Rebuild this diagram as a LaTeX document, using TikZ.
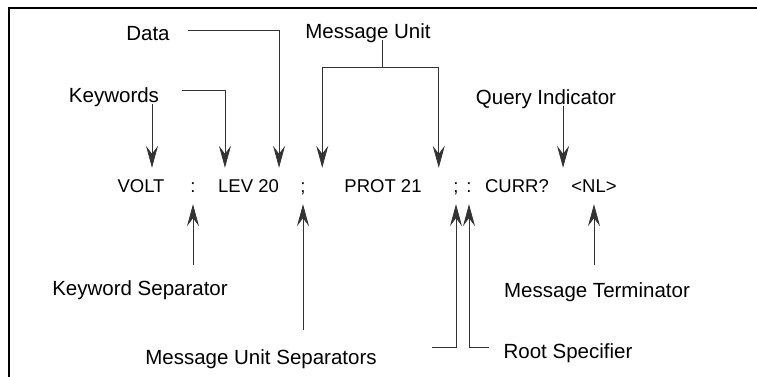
\documentclass[tikz,border=0pt]{standalone}
\usepackage{fontspec}
\setmainfont{Liberation Sans}
\usetikzlibrary{arrows.meta}
\begin{document}
\begin{tikzpicture}
[x=1pt,y=-1pt,
 note/.style={font=\fontsize{20.5}{24}\selectfont, inner sep=2pt, text height=14.5pt, text depth=0pt},
 code/.style={font=\fontsize{18.5}{22}\selectfont, inner xsep=0pt, inner ysep=0pt, text height=13pt, text depth=0pt, minimum height=36pt},
 link/.style={draw=black!80, line width=0.8pt},
 pointer/.style={link, -{Stealth[length=22pt,width=12pt,inset=8pt]}}]
\useasboundingbox (0,0) rectangle (757,377);
% frame
\draw[line width=1.5pt] (9,377) -- (9,8) -- (757,8);
% command line
\node[code] (volt) at (141,186) {VOLT};
\node[code] (colA) at (193,186) {:};
\node[code] (lev) at (248.5,186) {LEV 20};
\node[code] (semi) at (303,186) {;};
\node[code] (prot) at (383,186) {PROT 21};
\node[code] (colB) at (456,186) {;};
\node[code] (colC) at (469,186) {:};
\node[code] (curr) at (517,186) {CURR?};
\node[code] (nl) at (594,186) {<NL>};
% labels
\node[note] (data) at (148,33) {Data};
\node[note] (msgunit) at (368,31) {Message Unit};
\node[note] (keywords) at (114,95) {Keywords};
\node[note] (query) at (546,97) {Query Indicator};
\node[note] (kwsep) at (140,288) {Keyword Separator};
\node[note] (msgterm) at (597,290) {Message Terminator};
\node[note] (musep) at (261,357) {Message Unit Separators};
\node[note] (root) at (568,351) {Root Specifier};
% arrow tips
\coordinate (tipVolt) at ([xshift=11pt]volt.north);
\coordinate (tipLev) at ([xshift=7pt]lev.north west);
\coordinate (tipData) at (lev.north east);
\coordinate (tipMuL) at ([xshift=-22pt]prot.north west);
\coordinate (tipMuR) at ([xshift=17pt]prot.north east);
\coordinate (tipQuery) at ([xshift=14pt]curr.north east);
\coordinate (muJoin) at (382,67);
% pointers from above
\draw[pointer] (keywords.south -| tipVolt) -- (tipVolt);
\draw[pointer, shorten <=21pt] ([yshift=5pt]keywords.east) -| (tipLev);
\draw[pointer, shorten <=16pt] ([yshift=3pt]data.east) -| (tipData);
\draw[link] (msgunit.south -| muJoin) -- (muJoin);
\draw[pointer] (muJoin) -| (tipMuL);
\draw[pointer] (muJoin) -| (tipMuR);
\draw[pointer] (query.south -| tipQuery) -- (tipQuery);
% pointers from below
\draw[pointer, shorten <=14pt] (kwsep.north -| colA.south) -- (colA.south);
\draw[pointer, shorten <=18pt] (musep.north -| semi.south) -- (semi.south);
\draw[pointer, shorten <=53pt] ([yshift=10pt]musep.east) -| (colB.south);
\draw[pointer, shorten <=12pt] ([yshift=4pt]root.west) -| (colC.south);
\draw[pointer, shorten <=16pt] (msgterm.north -| nl.south) -- (nl.south);
\end{tikzpicture}
\end{document}
